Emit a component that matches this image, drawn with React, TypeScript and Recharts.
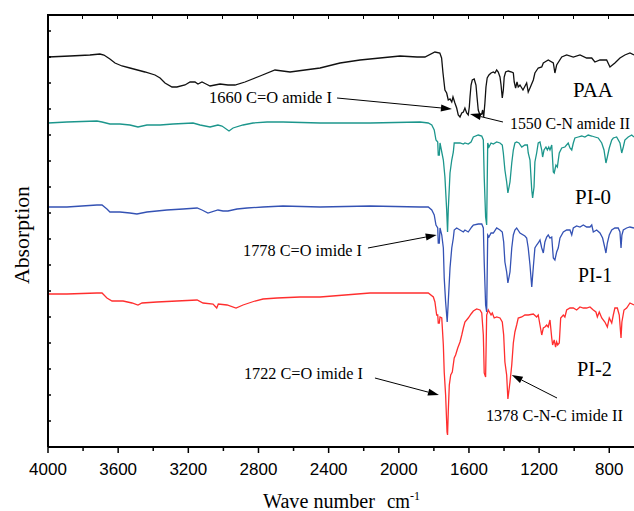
import { LineChart, Line, XAxis, YAxis, ReferenceLine, ReferenceDot } from "recharts"

// FTIR spectra, [wavenumber cm-1, absorption (offset, a.u.)]
const PAA: [number, number][] = [
  [4000, 390], [3875, 391], [3761, 392], [3704, 393], [3681, 392], [3647, 388], [3618, 384], [3578, 381],
  [3533, 379], [3447, 375], [3390, 372], [3361, 369], [3333, 364], [3293, 360], [3265, 360], [3219, 362],
  [3190, 365], [3162, 365], [3145, 363], [3122, 365], [3099, 363], [3076, 361], [3048, 362], [3019, 363],
  [2974, 362], [2934, 362], [2877, 365], [2791, 371], [2706, 377], [2620, 375], [2535, 377], [2449, 379],
  [2335, 384], [2221, 387], [2107, 389], [1993, 391], [1896, 390], [1851, 390], [1794, 395], [1766, 394],
  [1756, 389], [1748, 374], [1737, 357], [1727, 354], [1718, 347], [1708, 348], [1698, 345], [1691, 350],
  [1680, 344], [1670, 339], [1661, 332], [1651, 330], [1641, 334], [1632, 335], [1623, 339], [1613, 334],
  [1604, 332], [1598, 340], [1594, 350], [1588, 362], [1581, 367], [1570, 368], [1560, 362], [1554, 350],
  [1547, 337], [1537, 332], [1527, 333], [1522, 337], [1516, 330], [1509, 344], [1503, 360], [1496, 369],
  [1486, 372], [1474, 374], [1461, 375], [1452, 374], [1442, 377], [1433, 375], [1423, 370], [1417, 362],
  [1410, 349], [1404, 357], [1399, 370], [1391, 375], [1376, 376], [1356, 375], [1347, 374], [1342, 365],
  [1334, 359], [1326, 365], [1319, 360], [1309, 362], [1292, 357], [1271, 364], [1262, 355], [1252, 359],
  [1233, 367], [1224, 374], [1205, 379], [1185, 380], [1176, 384], [1167, 385], [1148, 387], [1119, 384],
  [1110, 374], [1100, 382], [1071, 390], [1043, 392], [1005, 390], [967, 392], [929, 389], [900, 389],
  [882, 385], [853, 387], [815, 387], [796, 380], [768, 384], [739, 389], [711, 392], [682, 394], [659, 392],
]

const PI0: [number, number][] = [
  [4000, 324], [3892, 325], [3721, 326], [3692, 325], [3647, 323], [3590, 323], [3533, 322], [3487, 320],
  [3436, 322], [3361, 322], [3287, 323], [3173, 324], [3133, 322], [3076, 320], [3031, 322], [3008, 321],
  [2968, 316], [2945, 319], [2888, 322], [2831, 324], [2751, 325], [2660, 325], [2449, 324], [2164, 324],
  [1879, 325], [1832, 324], [1812, 322], [1798, 317], [1788, 307], [1778, 305], [1775, 292], [1769, 292],
  [1765, 304], [1746, 287], [1737, 270], [1727, 237], [1722, 215], [1718, 237], [1708, 274], [1698, 287],
  [1689, 295], [1684, 304], [1670, 304], [1651, 304], [1632, 303], [1623, 304], [1604, 303], [1588, 305],
  [1575, 310], [1547, 312], [1527, 311], [1518, 307], [1513, 270], [1505, 230], [1499, 222], [1493, 304],
  [1486, 300], [1474, 304], [1461, 303], [1442, 305], [1423, 304], [1410, 302], [1404, 294], [1395, 277],
  [1385, 265], [1378, 254], [1366, 265], [1356, 284], [1347, 297], [1338, 304], [1328, 305], [1315, 304],
  [1299, 300], [1281, 302], [1267, 302], [1262, 294], [1252, 287], [1242, 257], [1237, 249], [1229, 260],
  [1224, 285], [1214, 294], [1205, 304], [1195, 305], [1185, 297], [1180, 290], [1172, 297], [1161, 300],
  [1153, 297], [1145, 300], [1138, 297], [1128, 302], [1119, 275], [1114, 274], [1104, 282], [1096, 280],
  [1085, 294], [1071, 299], [1053, 300], [1034, 304], [1024, 299], [1014, 297], [1005, 304], [996, 309],
  [977, 310], [957, 311], [939, 310], [920, 312], [900, 311], [882, 310], [863, 309], [843, 304],
  [830, 297], [819, 284], [811, 290], [800, 299], [786, 307], [777, 309], [758, 310], [739, 304],
  [729, 294], [720, 300], [711, 307], [692, 310], [672, 312], [659, 310],
]

const PI1: [number, number][] = [
  [4000, 240], [3892, 240], [3721, 242], [3692, 242], [3664, 238], [3647, 235], [3590, 235], [3533, 234],
  [3493, 233], [3436, 235], [3322, 237], [3230, 238], [3150, 239], [3122, 237], [3088, 234], [3031, 237],
  [3002, 236], [2974, 236], [2922, 238], [2865, 239], [2774, 240], [2660, 241], [2449, 240], [2164, 241],
  [1879, 240], [1832, 240], [1812, 237], [1798, 232], [1788, 222], [1778, 219], [1775, 204], [1769, 204],
  [1765, 219], [1755, 212], [1746, 199], [1741, 169], [1733, 145], [1724, 125], [1718, 145], [1708, 179],
  [1698, 199], [1689, 209], [1684, 217], [1670, 219], [1651, 217], [1632, 215], [1623, 217], [1604, 215],
  [1584, 220], [1575, 222], [1547, 223], [1527, 223], [1518, 219], [1513, 185], [1505, 142], [1499, 135],
  [1493, 212], [1486, 210], [1474, 214], [1461, 214], [1442, 219], [1423, 217], [1410, 215], [1402, 205],
  [1395, 185], [1385, 175], [1378, 164], [1366, 175], [1356, 199], [1347, 212], [1338, 217], [1328, 219],
  [1309, 214], [1281, 211], [1271, 209], [1262, 199], [1252, 182], [1242, 160], [1233, 180], [1224, 199],
  [1214, 202], [1205, 204], [1195, 207], [1185, 199], [1176, 194], [1167, 205], [1157, 210], [1148, 212],
  [1138, 209], [1128, 210], [1119, 189], [1110, 187], [1100, 195], [1091, 199], [1081, 209], [1062, 215],
  [1043, 217], [1024, 217], [1014, 212], [1005, 219], [986, 221], [967, 220], [948, 222], [929, 220],
  [910, 220], [900, 222], [891, 215], [872, 217], [853, 214], [838, 209], [825, 199], [819, 194],
  [811, 204], [800, 212], [786, 217], [768, 219], [749, 219], [739, 215], [733, 199], [728, 212],
  [720, 217], [701, 219], [682, 220], [659, 219],
]

const PI2: [number, number][] = [
  [4000, 153], [3892, 153], [3721, 154], [3692, 154], [3664, 149], [3635, 146], [3572, 146], [3521, 144],
  [3487, 142], [3464, 144], [3379, 145], [3265, 146], [3150, 147], [3116, 144], [3059, 143], [3038, 139],
  [3029, 143], [2979, 142], [2928, 139], [2888, 142], [2820, 146], [2774, 148], [2694, 149], [2563, 150],
  [2449, 150], [2164, 154], [1879, 154], [1832, 154], [1803, 150], [1794, 145], [1784, 132], [1778, 132],
  [1775, 124], [1769, 124], [1765, 130], [1755, 129], [1746, 102], [1741, 75], [1733, 52], [1725, 15],
  [1722, 12], [1718, 35], [1712, 62], [1704, 72], [1695, 75], [1684, 89], [1676, 92], [1664, 99],
  [1651, 105], [1641, 112], [1632, 119], [1623, 125], [1604, 129], [1588, 133], [1575, 136], [1556, 138],
  [1537, 137], [1527, 134], [1518, 112], [1513, 74], [1505, 70], [1499, 132], [1490, 137], [1474, 132],
  [1467, 134], [1456, 129], [1442, 130], [1423, 129], [1410, 125], [1402, 112], [1395, 85], [1385, 72],
  [1378, 48], [1366, 65], [1356, 82], [1347, 104], [1338, 115], [1328, 122], [1319, 129], [1299, 130],
  [1281, 132], [1262, 132], [1233, 133], [1214, 130], [1205, 132], [1195, 122], [1185, 112], [1176, 119],
  [1167, 120], [1157, 122], [1148, 120], [1138, 127], [1128, 109], [1123, 102], [1114, 107], [1106, 100],
  [1100, 105], [1094, 102], [1085, 104], [1077, 129], [1062, 132], [1053, 130], [1043, 137], [1024, 139],
  [1005, 139], [986, 137], [967, 140], [948, 139], [929, 139], [910, 140], [891, 137], [876, 135],
  [868, 130], [857, 135], [843, 129], [825, 125], [811, 120], [800, 129], [786, 124], [777, 132],
  [768, 139], [754, 139], [743, 132], [733, 109], [728, 125], [716, 137], [701, 139], [682, 144], [659, 142],
]

const xTicks = [4000, 3800, 3600, 3400, 3200, 3000, 2800, 2600, 2400, 2200, 2000, 1800, 1600, 1400, 1200, 1000, 800]
const yTicks = [0, 26, 52, 78, 104, 130, 156, 182, 208, 234, 260, 286, 312, 338, 364, 390, 416]
const xMin = 659
const xMax = 4000
const yTop = 432

// chart geometry
const W = 634
const H = 511
const M = { top: 15, left: 48 }

const series = [
  { name: "PAA", data: PAA, color: "#111111" },
  { name: "PI-0", data: PI0, color: "#1c968c" },
  { name: "PI-1", data: PI1, color: "#3452b4" },
  { name: "PI-2", data: PI2, color: "#ff2e2e" },
]

// curve labels: text, [wn, abs] of left baseline, text width
const curveLabels: [string, number, number, number][] = [
  ["PAA", 1007, 350, 40],
  ["PI-0", 995, 243, 36],
  ["PI-1", 978, 165, 34],
  ["PI-2", 984, 71, 35],
]

// annotations: text, [wn, abs] of left baseline, width, font size
const notes: [string, number, number, number, number][] = [
  ["1660 C=O amide I", 3082, 344, 123, 17],
  ["1550 C-N amide II", 1366, 318, 120, 16],
  ["1778 C=O imide I", 2888, 191, 119, 17],
  ["1722 C=O imide I", 2883, 68, 119, 17],
  ["1378 C-N-C imide II", 1503, 26, 137, 17],
]

// arrows: [fromWn, fromAbs, tipWn, tipAbs]
const arrows: [number, number, number, number][] = [
  [2352, 349, 1697, 338],
  [1406, 325, 1594, 333],
  [2176, 199, 1784, 212],
  [2136, 69, 1771, 52],
  [1098, 49, 1356, 72],
]

const serif = "'Liberation Serif', 'Times New Roman', serif"

const toPoints = (d: [number, number][]) => d.map(([wn, a]) => ({ wn, a }))

const BottomTick = (props: any) => {
  const { x, y, payload } = props
  const major = payload.value % 400 === 0
  return (
    <g>
      <line x1={x} x2={x} y1={y} y2={y + (major ? 6 : 4)} stroke="#000" strokeWidth={1.5} />
      {major && (
        <text x={x} y={y + 28} textAnchor="middle" fontFamily="'Liberation Sans', Arial, sans-serif" fontSize={17} fill="#000">
          {payload.value}
        </text>
      )}
    </g>
  )
}

const LeftTick = (props: any) => {
  const { x, y } = props
  return <line x1={x} x2={x + 3} y1={y} y2={y} stroke="#000" strokeWidth={1.5} />
}

const Arrow = (props: any) => {
  const { x1, y1, x2, y2 } = props
  const ang = Math.atan2(y2 - y1, x2 - x1)
  const len = 11
  const half = 3.5
  const bx = x2 - len * Math.cos(ang)
  const by = y2 - len * Math.sin(ang)
  const px = -Math.sin(ang) * half
  const py = Math.cos(ang) * half
  return (
    <g>
      <line x1={x1} y1={y1} x2={bx} y2={by} stroke="#000" strokeWidth={1} />
      <polygon points={`${x2},${y2} ${bx + px},${by + py} ${bx - px},${by - py}`} fill="#000" />
    </g>
  )
}

const textShape = (text: string, width: number, size: number) => (p: any) => (
  <text x={p.cx} y={p.cy} fontFamily={serif} fontSize={size} fill="#000" textLength={width} lengthAdjust="spacingAndGlyphs">
    {text}
  </text>
)

// top border of the frame with small inward ticks (same x mapping as the bottom axis)
function TopFrame() {
  const plotW = W - M.left
  const sx = (v: number) => M.left + ((xMax - v) / (xMax - xMin)) * plotW
  return (
    <>
      <div
        style={{
          position: "absolute",
          left: M.left - 1,
          top: M.top - 1,
          width: W - M.left + 1,
          height: 0,
          borderTop: "2px solid #000",
          zIndex: 5,
        }}
      />
      {xTicks.map((t) => (
        <div
          key={t}
          style={{
            position: "absolute",
            left: Math.round(sx(t)) - 1,
            top: M.top,
            width: 0,
            height: 4,
            borderLeft: "1.5px solid #000",
            zIndex: 5,
          }}
        />
      ))}
    </>
  )
}

export default function App() {
  return (
    <div style={{ position: "absolute", left: 0, top: 0, width: W, height: H, overflow: "hidden", background: "#fff" }}>
      <LineChart width={W} height={H} margin={{ top: M.top, right: 0, bottom: 0, left: 0 }}>
        <XAxis
          dataKey="wn"
          type="number"
          domain={[xMin, xMax]}
          reversed
          allowDataOverflow
          ticks={xTicks}
          interval={0}
          height={64}
          tickSize={0}
          tickMargin={0}
          tickLine={false}
          tick={BottomTick}
          axisLine={{ stroke: "#000", strokeWidth: 2 }}
          label={{
            content: (p: any) => {
              const vb = p.viewBox
              const x0 = vb.x + 215
              const base = vb.y + 61
              return (
                <g fontFamily={serif} fill="#000">
                  <text x={x0} y={base} fontSize={20} textLength={112} lengthAdjust="spacingAndGlyphs">Wave number</text>
                  <text x={x0 + 124} y={base} fontSize={20} textLength={23} lengthAdjust="spacingAndGlyphs">cm</text>
                  <text x={x0 + 147} y={base - 8} fontSize={13} textLength={10} lengthAdjust="spacingAndGlyphs">-1</text>
                </g>
              )
            },
          }}
        />
        <YAxis
          type="number"
          domain={[0, yTop]}
          allowDataOverflow
          ticks={yTicks}
          interval={0}
          width={M.left}
          tickSize={0}
          tickMargin={0}
          tickLine={false}
          tick={LeftTick}
          axisLine={{ stroke: "#000", strokeWidth: 2 }}
          label={{
            content: (p: any) => {
              const vb = p.viewBox
              const cx = 29
              const cy = vb.y + vb.height / 2 + 4
              return (
                <text
                  x={cx}
                  y={cy}
                  transform={`rotate(-90, ${cx}, ${cy})`}
                  textAnchor="middle"
                  fontFamily={serif}
                  fontSize={21}
                  fill="#000"
                  textLength={98}
                  lengthAdjust="spacingAndGlyphs"
                >
                  Absorption
                </text>
              )
            },
          }}
        />
        {series.map((s) => (
          <Line
            key={s.name}
            data={toPoints(s.data)}
            dataKey="a"
            type="linear"
            stroke={s.color}
            strokeWidth={1.3}
            dot={false}
            activeDot={false}
            isAnimationActive={false}
          />
        ))}
        {arrows.map(([fx, fy, tx, ty], i) => (
          <ReferenceLine key={`ar${i}`} segment={[{ x: fx, y: fy }, { x: tx, y: ty }]} shape={Arrow} />
        ))}
        {notes.map(([t, x, y, w, fs]) => (
          <ReferenceDot key={t} x={x} y={y} r={1} shape={textShape(t, w, fs)} />
        ))}
        {curveLabels.map(([t, x, y, w]) => (
          <ReferenceDot key={t} x={x} y={y} r={1} shape={textShape(t, w, 22)} />
        ))}
      </LineChart>
      <TopFrame />
    </div>
  )
}
